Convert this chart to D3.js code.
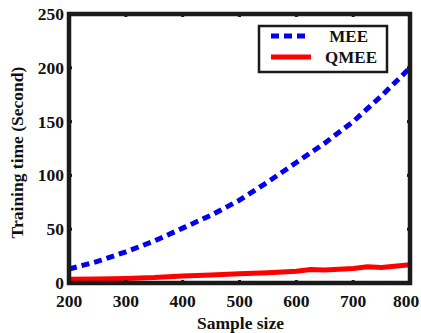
<!DOCTYPE html>
<html><head><meta charset="utf-8">
<script src="https://cdn.jsdelivr.net/npm/d3@7"></script>
<style>body{margin:0;background:#fff}svg{display:block}text{font-family:"Liberation Serif","Times New Roman",serif;font-weight:bold;fill:#111}</style>
</head><body><svg id="c" width="421" height="333"></svg>
<script>
const sampleSizes = [200,250,300,350,400,450,500,550,600,625,650,700,725,750,800];
const mee  = [13,20,29,39,51,63,77,94,112,121,130,150,162,174,200];
const qmee = [3.5,3.8,4.2,5,6.5,7.5,8.5,9.5,11,12.5,12,13.5,15,14.5,17];
const xTicks = [200,300,400,500,600,700,800];
const yTicks = [0,50,100,150,200,250];
const seriesNames = ["MEE","QMEE"];

const svg = d3.select("#c");
const L=69, R=410, T=14, B=283;
const x = d3.scaleLinear().domain([200,800]).range([L,R]);
const y = d3.scaleLinear().domain([0,250]).range([B,T]);

const g = svg.append("g");
const line = d3.line().x((d,i)=>x(sampleSizes[i])).y(d=>y(d));
g.append("path").datum(qmee).attr("d",line).attr("fill","none").attr("stroke","#ff0000").attr("stroke-width",5);
g.append("path").datum(mee).attr("d",line).attr("fill","none").attr("stroke","#0000ee").attr("stroke-width",5).attr("stroke-dasharray","8,5");

const tk = 3;
const tg = svg.append("g").attr("stroke","#1a1a1a").attr("stroke-width",3);
xTicks.slice(1,-1).forEach(v=>{
  tg.append("line").attr("x1",x(v)).attr("x2",x(v)).attr("y1",B).attr("y2",B-tk);
  tg.append("line").attr("x1",x(v)).attr("x2",x(v)).attr("y1",T).attr("y2",T+tk);
});
yTicks.slice(1,-1).forEach(v=>{
  tg.append("line").attr("x1",L).attr("x2",L+tk).attr("y1",y(v)).attr("y2",y(v));
  tg.append("line").attr("x1",R).attr("x2",R-tk).attr("y1",y(v)).attr("y2",y(v));
});
svg.append("rect").attr("x",L).attr("y",T).attr("width",R-L).attr("height",B-T)
  .attr("fill","none").attr("stroke","#1a1a1a").attr("stroke-width",4.5);

svg.selectAll(".xl").data(xTicks).join("text").attr("x",d=>Math.min(x(d),406)).attr("y",B+24)
  .attr("text-anchor","middle").attr("font-size",17.5).text(d=>d);
svg.selectAll(".yl").data(yTicks).join("text").attr("x",L-5).attr("y",d=>y(d)+6)
  .attr("text-anchor","end").attr("font-size",17.5).text(d=>d);

svg.append("text").attr("x",(L+R)/2+1).attr("y",329).attr("text-anchor","middle").attr("font-size",17.5).text("Sample size");
svg.append("text").attr("transform",`translate(23,${(T+B)/2+4}) rotate(-90)`).attr("text-anchor","middle").attr("font-size",17.5).text("Training time (Second)");

const lg = svg.append("g");
lg.append("rect").attr("x",259).attr("y",26).attr("width",128).attr("height",46).attr("fill","#fff").attr("stroke","#1a1a1a").attr("stroke-width",2.5);
const lgY=[36,57];
lg.append("line").attr("x1",271).attr("x2",309).attr("y1",lgY[0]).attr("y2",lgY[0]).attr("stroke","#0000ee").attr("stroke-width",5).attr("stroke-dasharray","8,5");
lg.append("line").attr("x1",271).attr("x2",311).attr("y1",lgY[1]).attr("y2",lgY[1]).attr("stroke","#ff0000").attr("stroke-width",5);
lg.append("text").attr("x",368).attr("y",lgY[0]+6).attr("text-anchor","end").attr("font-size",17).text(seriesNames[0]);
lg.append("text").attr("x",377).attr("y",lgY[1]+6).attr("text-anchor","end").attr("font-size",17).text(seriesNames[1]);
</script></body></html>
